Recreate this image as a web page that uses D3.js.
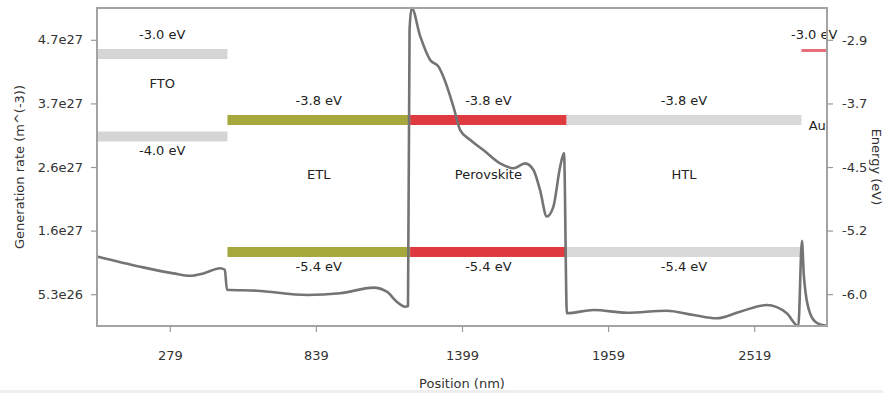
<!DOCTYPE html>
<html>
<head>
<meta charset="utf-8">
<script src="https://cdn.jsdelivr.net/npm/d3@7/dist/d3.min.js"></script>
<style>
  body { margin: 0; background: #fff; }
  svg { display: block; font-family: "DejaVu Sans", Verdana, sans-serif; }
</style>
</head>
<body>
<svg id="chart" width="883" height="393"></svg>
<script>
// Optical generation profile through the device stack
const positionNm = [
  0, 166, 293, 357, 408, 472, 490, 498, 613, 805, 932, 1060, 1111, 1149, 1181, 1192,
  1198, 1206, 1239, 1277, 1309, 1328, 1366, 1392, 1430, 1481, 1545, 1596, 1641, 1673,
  1698, 1724, 1749, 1775, 1790, 1801, 1903, 2031, 2184, 2286, 2375, 2465, 2567, 2644,
  2688, 2702, 2709, 2716, 2733, 2759, 2798
];
const generationRate = [
  1.15e27, 0.98e27, 0.87e27, 0.83e27, 0.87e27, 0.955e27, 0.93e27, 0.60e27, 0.584e27, 0.513e27,
  0.541e27, 0.634e27, 0.567e27, 0.402e27, 0.319e27, 0.33e27,
  4.9e27, 5.26e27, 4.79e27, 4.40e27, 4.29e27, 4.12e27, 3.63e27, 3.24e27, 3.08e27, 2.91e27,
  2.69e27, 2.61e27, 2.69e27, 2.58e27, 2.25e27, 1.81e27, 1.97e27, 2.63e27, 2.86e27,
  0.21e27, 0.265e27, 0.22e27, 0.253e27, 0.182e27, 0.127e27, 0.237e27, 0.347e27, 0.21e27,
  0.0, 1.41e27, 0.85e27, 0.55e27, 0.21e27, 0.05e27, 0.0
];

// Layer stack and band edges
const layerNames  = ["FTO", "ETL", "Perovskite", "HTL", "Au"];
const layerStart  = [0, 500, 1200, 1800, 2700];
const layerEnd    = [500, 1200, 1800, 2700, 2798];
const conduction  = [-3.0, -3.8, -3.8, -3.8, -3.0];
const valence     = [-4.0, -5.4, -5.4, -5.4, null];
const layerColors = ["#d5d5d5", "#a6a73c", "#de3a40", "#d9d9d9", "#e8707a"];

// Axis ticks
const positionTicks = [279, 839, 1399, 1959, 2519];
const genTicks = [0.526e27, 1.578e27, 2.63e27, 3.682e27, 4.734e27];
const genTickLabels = ["5.3e26", "1.6e27", "2.6e27", "3.7e27", "4.7e27"];
const energyTicks = [-5.972, -5.201, -4.431, -3.660, -2.889];
const energyTickLabels = ["-6.0", "-5.2", "-4.5", "-3.7", "-2.9"];

(function draw() {
  const svg = d3.select("#chart");
  const plotL = 97, plotR = 827, plotT = 8, plotB = 326;
  const fontSize = 13;

  const x  = d3.scaleLinear().domain([0, 2798]).range([plotL, plotR]);
  const yG = d3.scaleLinear().domain([0, 5.26e27]).range([plotB, plotT]);
  const yE = d3.scaleLinear().domain([-6.358, -2.503]).range([plotB, plotT]);

  // faint strip along the bottom edge
  svg.append("rect").attr("x", 0).attr("y", 390).attr("width", 883).attr("height", 3).attr("fill", "#eeeeee");

  const layers = layerNames.map((name, i) => ({
    name, start: layerStart[i], end: layerEnd[i], cb: conduction[i], vb: valence[i], color: layerColors[i]
  }));

  // energy band bars
  const bands = svg.append("g");
  layers.forEach(L => {
    const thin = L.vb === null;
    bands.append("rect")
      .attr("x", x(L.start)).attr("width", x(L.end) - x(L.start))
      .attr("y", yE(L.cb)).attr("height", thin ? 3 : 10)
      .attr("fill", L.color);
    if (!thin) {
      bands.append("rect")
        .attr("x", x(L.start)).attr("width", x(L.end) - x(L.start))
        .attr("y", yE(L.vb)).attr("height", 10)
        .attr("fill", L.color);
    }
  });

  // band labels
  const labels = svg.append("g").attr("font-size", fontSize).attr("fill", "#222").attr("text-anchor", "middle");
  layers.forEach(L => {
    const cx = x((L.start + L.end) / 2);
    labels.append("text").attr("x", cx).attr("y", yE(L.cb) - 10).text(`${L.cb.toFixed(1)} eV`);
    if (L.vb !== null) {
      labels.append("text").attr("x", cx).attr("y", yE(L.vb) + 24).text(`${L.vb.toFixed(1)} eV`);
      labels.append("text").attr("x", cx).attr("y", yE((L.cb + L.vb) / 2) - 2).text(L.name);
    } else {
      labels.append("text").attr("x", cx + 3).attr("y", yE(L.cb) + 81).text(L.name);
    }
  });

  // generation rate curve
  const pts = positionNm.map((p, i) => [p, generationRate[i]]);
  const line = d3.line().x(d => x(d[0])).y(d => yG(d[1])).curve(d3.curveMonotoneX);
  svg.append("path").datum(pts)
    .attr("d", line)
    .attr("fill", "none")
    .attr("stroke", "#747474")
    .attr("stroke-width", 2.6)
    .attr("stroke-linejoin", "round");

  // frame
  svg.append("rect")
    .attr("x", plotL).attr("y", plotT).attr("width", plotR - plotL).attr("height", plotB - plotT)
    .attr("fill", "none").attr("stroke", "#a3a3a3").attr("stroke-width", 2);

  function styleAxis(g) {
    g.select(".domain").remove();
    g.selectAll(".tick line").attr("stroke", "#9a9a9a").attr("stroke-width", 1.2);
    g.selectAll(".tick text").attr("fill", "#333").attr("font-size", fontSize)
      .attr("font-family", "DejaVu Sans, Verdana, sans-serif");
  }

  svg.append("g").attr("transform", `translate(0,${plotB})`)
    .call(d3.axisBottom(x).tickValues(positionTicks).tickFormat(d3.format("d")).tickSize(6).tickPadding(19))
    .call(styleAxis);

  svg.append("g").attr("transform", `translate(${plotL},0)`)
    .call(d3.axisLeft(yG).tickValues(genTicks).tickFormat((d, i) => genTickLabels[i]).tickSize(6).tickPadding(8))
    .call(styleAxis);

  svg.append("g").attr("transform", `translate(${plotR},0)`)
    .call(d3.axisRight(yE).tickValues(energyTicks).tickFormat((d, i) => energyTickLabels[i]).tickSize(6).tickPadding(9))
    .call(styleAxis);

  // axis titles
  svg.append("text").attr("x", (plotL + plotR) / 2).attr("y", 388)
    .attr("text-anchor", "middle").attr("font-size", fontSize).attr("fill", "#333")
    .text("Position (nm)");
  svg.append("text").attr("transform", `translate(24,${(plotT + plotB) / 2}) rotate(-90)`)
    .attr("text-anchor", "middle").attr("font-size", fontSize).attr("fill", "#333")
    .text("Generation rate (m^(-3))");
  svg.append("text").attr("transform", `translate(871.5,${(plotT + plotB) / 2}) rotate(90)`)
    .attr("text-anchor", "middle").attr("font-size", fontSize).attr("fill", "#333")
    .text("Energy (eV)");
})();
</script>
</body>
</html>
